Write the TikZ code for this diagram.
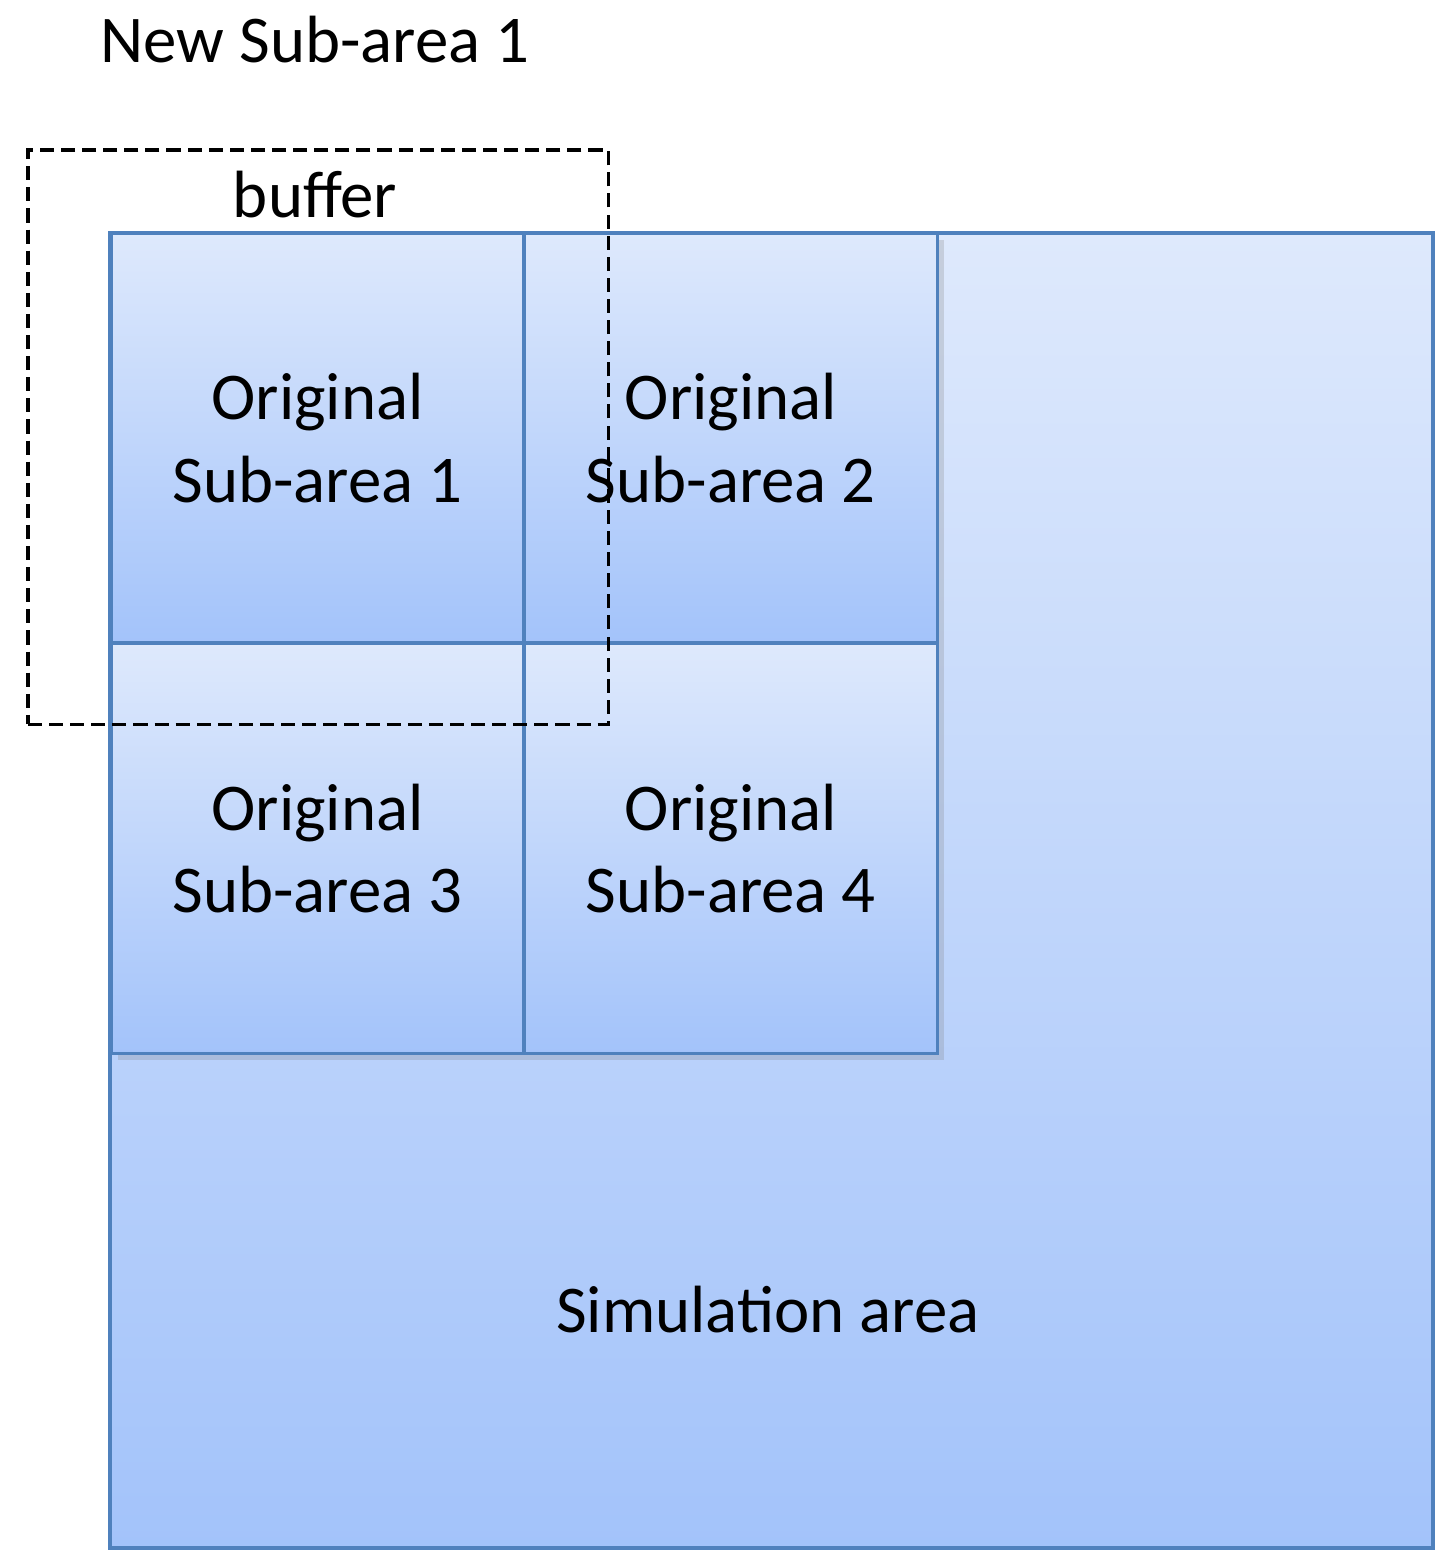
\documentclass[tikz,border=0pt]{standalone}
\usepackage{fontspec}
\setmainfont{Carlito}
\usepackage{tikz}
\definecolor{areatop}{RGB}{222,233,252}
\definecolor{areabottom}{RGB}{163,195,250}
\definecolor{areaborder}{RGB}{79,129,189}
\usetikzlibrary{positioning,shadows}

\begin{document}
\begin{tikzpicture}[
    x=0.01cm, y=-0.01cm,
    area/.style={rectangle, draw=areaborder, line width=1.1pt, top color=areatop, bottom color=areabottom, inner sep=0pt, outer sep=0pt},
    subarea/.style={area, minimum width=4.13cm, minimum height=4.1cm, align=center, font=\fontsize{19}{23.5}\selectfont, drop shadow={shadow xshift=0.4ex, shadow yshift=-0.4ex, opacity=0.25}},
    buffer/.style={rectangle, draw, dash pattern=on 4pt off 2pt, line width=1pt, minimum width=5.8cm, minimum height=5.74cm, inner sep=0pt, outer sep=0pt},
    label/.style={font=\fontsize{19}{23}\selectfont}
]
\useasboundingbox (0,0) rectangle (1451,1568);

% Simulation area
\node[area, minimum width=13.22cm, minimum height=13.14cm, anchor=north west] (sim) at (110,233) {};
\node[label] (simlabel) at (768,1310) {Simulation area};

% Original sub-areas
\node[subarea, anchor=north west] (sub1) at (111,233) {Original\\Sub-area 1};
\node[subarea, right=0cm of sub1] (sub2) {Original\\Sub-area 2};
\node[subarea, below=0cm of sub1] (sub3) {Original\\Sub-area 3};
\node[subarea, right=0cm of sub3] (sub4) {Original\\Sub-area 4};

% New sub-area with buffer
\node[buffer, anchor=north west] (buf) at (28,150) {};
\node[label] (buflabel) at (315,195) {buffer};
\node[label] (newsub) at (315,40) {New Sub-area 1};

\end{tikzpicture}
\end{document}
